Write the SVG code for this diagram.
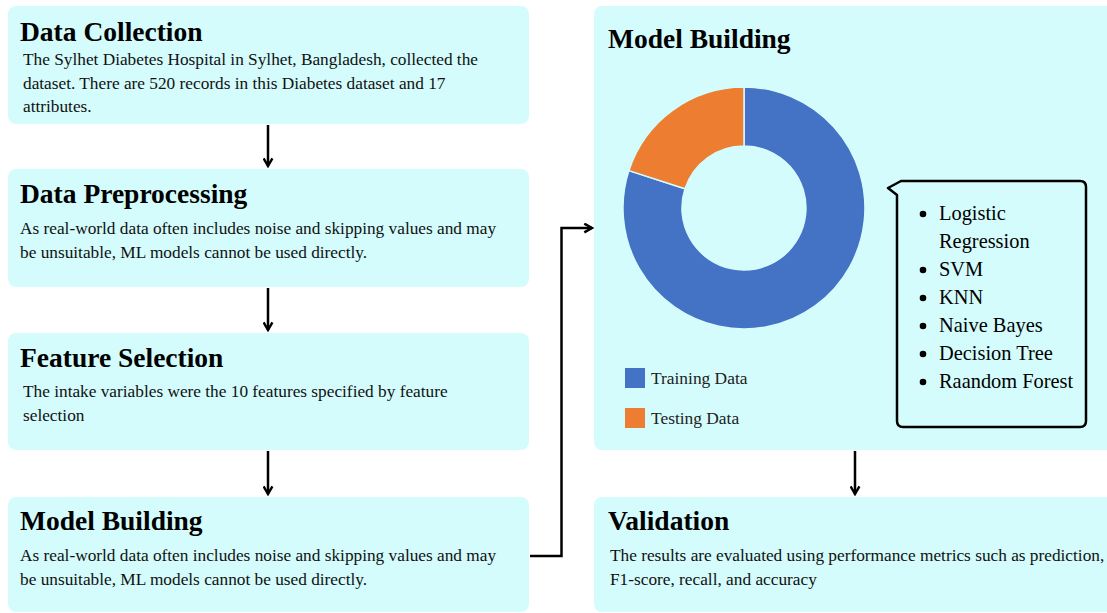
<svg xmlns="http://www.w3.org/2000/svg" width="1107" height="613" viewBox="0 0 1107 613">
  <style>
    .box { fill: #d4fcfc; }
    .title { font-family: "Liberation Serif", "Times New Roman", serif; font-weight: bold; font-size: 27.5px; fill: #000; }
    .body { font-family: "Liberation Serif", "Times New Roman", serif; font-size: 17.3px; fill: #111; }
    .item { font-family: "Liberation Serif", "Times New Roman", serif; font-size: 20.4px; fill: #000; }
    .legend { font-family: "Liberation Serif", "Times New Roman", serif; font-size: 17.4px; fill: #222; }
    .link { fill: none; stroke: #000; stroke-width: 2.5; }
  </style>
  <defs>
    <marker id="chev" viewBox="0 0 10 10" refX="8" refY="5" markerWidth="4.4" markerHeight="4.4" orient="auto" markerUnits="strokeWidth">
      <path d="M1 1 L8 5 L1 9" fill="none" stroke="#000" stroke-width="2.2"/>
    </marker>
  </defs>
  <rect width="1107" height="613" fill="#fff"/>

  <g id="data-collection">
    <rect class="box" x="8" y="6" width="521" height="118" rx="8"/>
    <text class="title" x="20" y="41">Data Collection</text>
    <text class="body" x="23" y="65">The Sylhet Diabetes Hospital in Sylhet, Bangladesh, collected the</text>
    <text class="body" x="23" y="89">dataset. There are 520 records in this Diabetes dataset and 17</text>
    <text class="body" x="23" y="112">attributes.</text>
  </g>

  <g id="data-preprocessing">
    <rect class="box" x="8" y="169" width="521" height="118" rx="8"/>
    <text class="title" x="20" y="203">Data Preprocessing</text>
    <text class="body" x="20" y="234">As real-world data often includes noise and skipping values and may</text>
    <text class="body" x="20" y="258">be unsuitable, ML models cannot be used directly.</text>
  </g>

  <g id="feature-selection">
    <rect class="box" x="8" y="333" width="521" height="117" rx="8"/>
    <text class="title" x="20" y="367">Feature Selection</text>
    <text class="body" x="23" y="397">The intake variables were the 10 features specified by feature</text>
    <text class="body" x="23" y="421">selection</text>
  </g>

  <g id="model-building-step">
    <rect class="box" x="8" y="497" width="521" height="115" rx="8"/>
    <text class="title" x="20" y="530">Model Building</text>
    <text class="body" x="20" y="561">As real-world data often includes noise and skipping values and may</text>
    <text class="body" x="20" y="585">be unsuitable, ML models cannot be used directly.</text>
  </g>

  <g id="model-building-panel">
    <rect class="box" x="594" y="6" width="540" height="444" rx="8"/>
    <text class="title" x="608" y="48">Model Building</text>
    <!-- train / test split donut: 80% training, 20% testing -->
    <path d="M744 87 A121 121 0 1 1 628.9 170.6 L685 188.8 A62 62 0 1 0 744 146 Z" fill="#4472c4" stroke="#d4fcfc" stroke-width="1.5"/>
    <path d="M744 87 A121 121 0 0 0 628.9 170.6 L685 188.8 A62 62 0 0 1 744 146 Z" fill="#ed7d31" stroke="#d4fcfc" stroke-width="1.5"/>
    <rect x="625" y="368" width="20" height="20" fill="#4472c4"/>
    <text class="legend" x="651" y="384">Training Data</text>
    <rect x="625" y="408" width="20" height="20" fill="#ed7d31"/>
    <text class="legend" x="651" y="424">Testing Data</text>
    <!-- classifier callout -->
    <path d="M897 195 L888 188 L901 181 L1080 181 Q1086 181 1086 187 L1086 421 Q1086 427 1080 427 L903 427 Q897 427 897 421 Z" fill="#d4fcfc" stroke="#000" stroke-width="2.5" stroke-linejoin="round"/>
    <g fill="#000">
      <circle cx="923" cy="214" r="3.3"/>
      <circle cx="923" cy="270" r="3.3"/>
      <circle cx="923" cy="298" r="3.3"/>
      <circle cx="923" cy="326" r="3.3"/>
      <circle cx="923" cy="354" r="3.3"/>
      <circle cx="923" cy="382" r="3.3"/>
    </g>
    <text class="item" x="939" y="220">Logistic</text>
    <text class="item" x="939" y="248">Regression</text>
    <text class="item" x="939" y="276">SVM</text>
    <text class="item" x="939" y="304">KNN</text>
    <text class="item" x="939" y="332">Naive Bayes</text>
    <text class="item" x="939" y="360">Decision Tree</text>
    <text class="item" x="939" y="388">Raandom Forest</text>
  </g>

  <g id="validation">
    <rect class="box" x="594" y="497" width="540" height="115" rx="8"/>
    <text class="title" x="608" y="530">Validation</text>
    <text class="body" x="610" y="561">The results are evaluated using performance metrics such as prediction,</text>
    <text class="body" x="610" y="585">F1-score, recall, and accuracy</text>
  </g>

  <g id="connectors">
    <line class="link" x1="268" y1="125" x2="268" y2="166" marker-end="url(#chev)"/>
    <line class="link" x1="268" y1="288" x2="268" y2="330" marker-end="url(#chev)"/>
    <line class="link" x1="268" y1="451" x2="268" y2="494" marker-end="url(#chev)"/>
    <line class="link" x1="855" y1="451" x2="855" y2="494" marker-end="url(#chev)"/>
    <path class="link" d="M530 556 L561.5 556 L561.5 228 L592 228" marker-end="url(#chev)"/>
  </g>
</svg>
